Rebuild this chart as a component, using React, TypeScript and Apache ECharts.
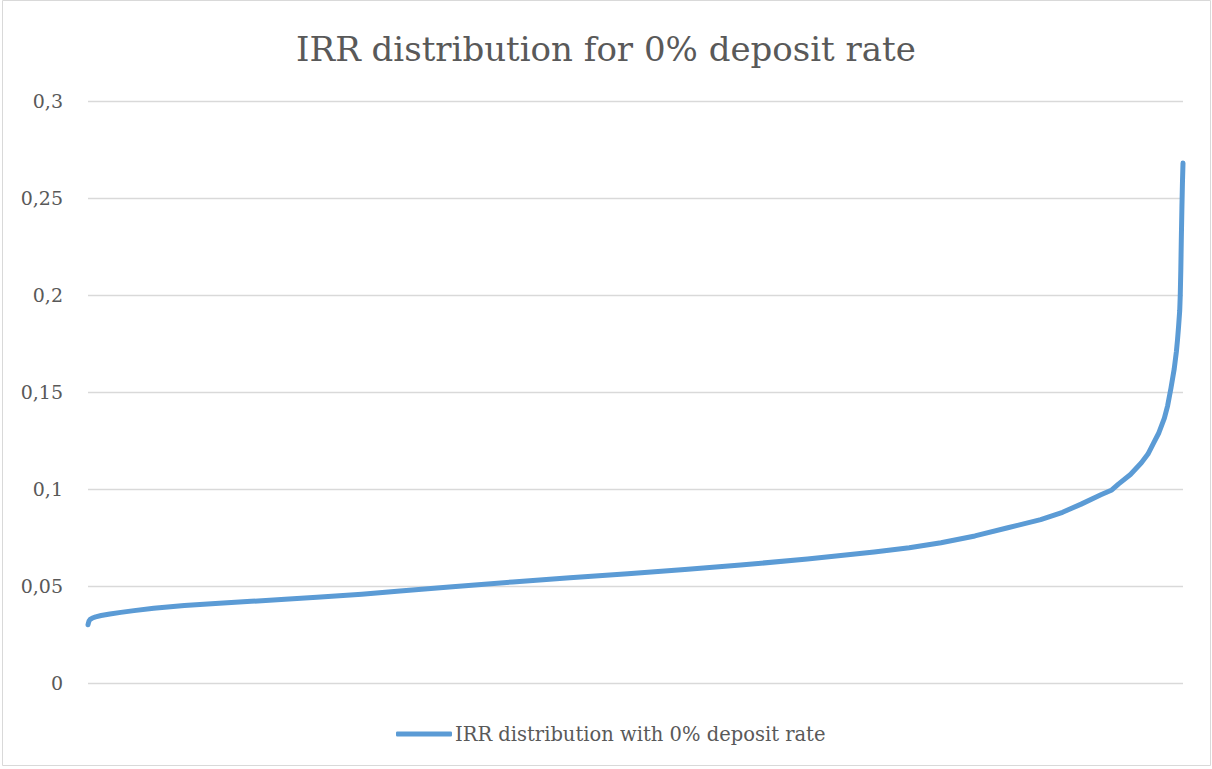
import React, { useEffect, useRef } from "react";
import * as echarts from "echarts";

// Rank of each simulated run (0..1000, sorted ascending) and its IRR
const ranks = [0, 0.5, 1, 2, 4, 7, 12, 20, 30, 42, 60, 88, 120, 149, 180, 209, 250, 285, 330, 388, 440, 493, 545, 596, 657, 718, 750, 779, 810, 840, 870, 890, 907, 925, 935, 941, 952, 962, 968, 973, 978, 983, 986, 989, 992, 994, 995, 996, 997, 997.5, 998, 998.5, 999, 999.5, 1000];
const irrValues = [0.03, 0.0312, 0.032, 0.0328, 0.0335, 0.0341, 0.0348, 0.0356, 0.0364, 0.0373, 0.0385, 0.0399, 0.0411, 0.0421, 0.0432, 0.0442, 0.0458, 0.0474, 0.0495, 0.0521, 0.0542, 0.0563, 0.0585, 0.0608, 0.0639, 0.0675, 0.0697, 0.0723, 0.0758, 0.08, 0.0842, 0.088, 0.0922, 0.097, 0.0995, 0.1025, 0.1075, 0.1135, 0.118, 0.1235, 0.129, 0.1365, 0.143, 0.152, 0.162, 0.171, 0.177, 0.184, 0.192, 0.2, 0.213, 0.23, 0.245, 0.258, 0.268];
const yTicks = [0, 0.05, 0.1, 0.15, 0.2, 0.25, 0.3];
const titleText = "IRR distribution for 0% deposit rate";
const seriesName = "IRR distribution with 0% deposit rate";

const FONT = "DejaVu Serif";
const TEXT = "#595959";

export default function App() {
  const ref = useRef<HTMLDivElement>(null);
  useEffect(() => {
    const chart = echarts.init(ref.current!, null, { renderer: "svg" });
    chart.setOption({
      animation: false,
      backgroundColor: "#ffffff",
      title: {
        text: titleText,
        left: "center",
        top: 27,
        textStyle: { fontFamily: FONT, fontSize: 34, fontWeight: "normal", color: TEXT },
      },
      graphic: [
        {
          type: "rect",
          shape: { x: 2.5, y: 0.5, width: 1208, height: 765 },
          style: { fill: "none", stroke: "#d9d9d9", lineWidth: 1 },
          silent: true,
        },
      ],
      legend: {
        bottom: 25,
        left: 396,
        padding: 0,
        icon: "roundRect",
        itemWidth: 56,
        itemHeight: 5,
        itemGap: 10,
        textStyle: { fontFamily: FONT, fontSize: 19.5, color: TEXT, padding: [0, 0, 0, -2] },
        data: [{ name: seriesName, itemStyle: { color: "#5b9bd5" } }],
      },
      grid: { left: 88, right: 29, top: 101, bottom: 86, containLabel: false },
      xAxis: {
        type: "value",
        min: 0,
        max: 1000,
        show: false,
      },
      yAxis: {
        type: "value",
        min: 0,
        max: yTicks[yTicks.length - 1],
        interval: 0.05,
        axisLine: { show: false },
        axisTick: { show: false },
        splitLine: { lineStyle: { color: "#d9d9d9", width: 1.3 } },
        axisLabel: {
          margin: 25,
          fontFamily: FONT,
          fontSize: 19,
          color: TEXT,
          formatter: (v: number) => String(Number(v.toFixed(2))).replace(".", ","),
        },
      },
      series: [
        {
          name: seriesName,
          type: "line",
          data: ranks.map((r, i) => [r, irrValues[i]]),
          showSymbol: false,
          smooth: false,
          lineStyle: { color: "#5b9bd5", width: 5, cap: "round", join: "round" },
          itemStyle: { color: "#5b9bd5" },
        },
      ],
    });
    return () => chart.dispose();
  }, []);
  return (
    <div
      ref={ref}
      style={{ position: "fixed", left: 0, top: 0, width: 1212, height: 769, background: "#fff" }}
    />
  );
}
